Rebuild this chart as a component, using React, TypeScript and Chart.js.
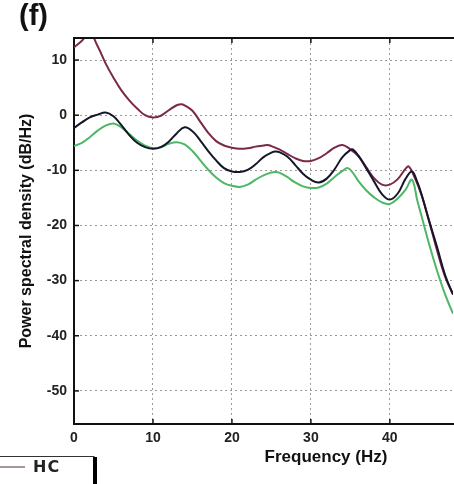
import React, { useEffect, useRef } from "react";
import { Chart, registerables } from "chart.js";

Chart.register(...registerables);

// ---- data ----
const seriesLabels = ["HC", "MCI", "AD"];

const hcFreq = [0, 1, 2, 3, 4, 5, 6, 7, 8, 9, 10, 11, 12, 13, 13.6, 14, 15, 16, 17, 18, 19, 20, 21, 22, 23, 24, 24.5, 25, 26, 27, 28, 29, 30, 31, 32, 33, 34, 35, 36, 37, 38, 39, 40, 41, 42, 42.4, 43, 44, 45, 46, 47, 48];
const hcPsd = [12.3, 13.5, 14.9, 12.5, 9.4, 6.8, 4.5, 2.7, 1.2, 0.0, -0.4, -0.1, 0.9, 1.8, 2.0, 1.8, 0.8, -1.2, -3.2, -4.7, -5.5, -5.9, -6.1, -6.0, -5.7, -5.5, -5.4, -5.6, -6.2, -7.0, -7.8, -8.3, -8.3, -7.8, -6.9, -5.9, -5.4, -6.2, -7.4, -9.4, -11.4, -12.6, -12.6, -11.6, -9.7, -9.3, -10.8, -14.4, -19.3, -24.6, -29.3, -32.5];

const mciFreq = [0, 1, 2, 3, 4, 5, 6, 7, 8, 9, 10, 11, 12, 13, 14, 15, 16, 17, 18, 19, 20, 21, 22, 23, 24, 25, 25.5, 26, 27, 28, 29, 30, 31, 32, 33, 34, 35, 35.3, 36, 37, 38, 39, 40, 41, 42, 42.8, 43.5, 44, 45, 46, 47, 48];
const mciPsd = [-2.3, -1.3, -0.4, 0.1, 0.5, -0.2, -1.8, -3.6, -5.0, -5.8, -6.1, -5.8, -4.8, -3.3, -2.2, -2.9, -4.6, -6.5, -8.2, -9.6, -10.2, -10.3, -9.9, -8.9, -7.6, -6.8, -6.6, -6.7, -7.5, -9.0, -10.6, -11.7, -12.2, -11.5, -9.8, -7.6, -6.3, -6.2, -7.3, -9.6, -12.0, -14.3, -15.3, -14.2, -11.5, -10.2, -12.2, -14.3, -19.3, -24.0, -29.0, -32.5];

const adFreq = [0, 1, 2, 3, 4, 5, 6, 7, 8, 9, 10, 11, 12, 13, 14, 15, 16, 17, 18, 19, 20, 21, 22, 23, 24, 25, 25.5, 26, 27, 28, 29, 30, 31, 32, 33, 34, 34.7, 35.5, 36, 37, 38, 39, 40, 41, 42, 42.8, 43.5, 44, 45, 46, 47, 48];
const adPsd = [-5.6, -5.0, -4.0, -2.8, -1.9, -1.5, -2.2, -3.4, -4.6, -5.5, -6.0, -5.8, -5.2, -4.9, -5.3, -6.5, -8.2, -9.9, -11.3, -12.3, -12.8, -13.0, -12.6, -11.7, -10.9, -10.4, -10.3, -10.4, -11.2, -12.2, -12.9, -13.2, -13.1, -12.4, -11.2, -10.1, -9.6, -10.8, -11.9, -13.6, -14.9, -15.8, -16.1, -15.1, -13.5, -11.7, -15.6, -18.2, -23.5, -28.3, -32.5, -36.0];

const xTickValues = [0, 10, 20, 30, 40];
const yTickValues = [10, 0, -10, -20, -30, -40, -50];
const xMin = 0;
const xMax = 48;
const yMin = -56;
const yMax = 14;

const titleText = "(f)";
const xAxisTitle = "Frequency (Hz)";
const yAxisTitle = "Power spectral density (dB/Hz)";

const colors = ["#7a2a48", "#16162a", "#4cb866"];

function toPoints(xs: number[], ys: number[]) {
  return xs.map((x, i) => ({ x, y: ys[i] }));
}

const overlayPlugin = {
  id: "overlay",
  afterDraw(chart: any) {
    const { ctx, chartArea: a, scales } = chart;
    ctx.save();
    const line = (x1: number, y1: number, x2: number, y2: number) => {
      ctx.beginPath();
      ctx.moveTo(x1, y1);
      ctx.lineTo(x2, y2);
      ctx.stroke();
    };
    // top border
    ctx.strokeStyle = "#111";
    ctx.lineWidth = 2;
    line(a.left - 1, a.top, a.right + 2, a.top);
    // inward tick marks
    ctx.lineWidth = 1.5;
    scales.x.ticks.forEach((t: any) => {
      if (t.value === xMin) return;
      const px = scales.x.getPixelForValue(t.value);
      line(px, a.bottom, px, a.bottom - 5);
      line(px, a.top, px, a.top + 5);
    });
    scales.y.ticks.forEach((t: any) => {
      const py = scales.y.getPixelForValue(t.value);
      line(a.left, py, a.left + 5, py);
    });

    ctx.fillStyle = "#111";
    // panel title
    ctx.font = "bold 29px 'Liberation Sans', Arial, sans-serif";
    ctx.textAlign = "left";
    ctx.textBaseline = "alphabetic";
    ctx.fillText(titleText, 19, 25);

    // y axis title
    ctx.save();
    ctx.translate(27, (a.top + a.bottom) / 2);
    ctx.rotate(-Math.PI / 2);
    ctx.font = "bold 16px 'Liberation Sans', Arial, sans-serif";
    ctx.textAlign = "center";
    ctx.textBaseline = "middle";
    ctx.fillText(yAxisTitle, 0, 0);
    ctx.restore();

    // x axis title (figure was cropped on the right, so the title sits right of centre)
    ctx.font = "bold 17px 'Liberation Sans', Arial, sans-serif";
    ctx.textAlign = "center";
    ctx.textBaseline = "middle";
    ctx.fillText(xAxisTitle, 326, 457);

    // legend box (cropped by the picture edge)
    ctx.strokeStyle = "#333";
    ctx.lineWidth = 1;
    ctx.strokeRect(-5, 456.5, 99, 90);
    ctx.fillStyle = "#000";
    ctx.fillRect(93, 457, 4, 60);
    chart.data.datasets.forEach((ds: any, i: number) => {
      const y = 467 + i * 26;
      ctx.strokeStyle = i === 0 ? "#8a7278" : ds.borderColor;
      ctx.lineWidth = 1.5;
      line(0, y, 25, y);
      ctx.fillStyle = "#222";
      ctx.font = "bold 16px 'DejaVu Sans', sans-serif";
      (ctx as any).letterSpacing = "1px";
      ctx.textAlign = "left";
      ctx.textBaseline = "middle";
      ctx.fillText(ds.label, 33, y + 1);
      (ctx as any).letterSpacing = "0px";
    });
    ctx.restore();
  },
};

export default function App() {
  const canvasRef = useRef<HTMLCanvasElement | null>(null);

  useEffect(() => {
    if (!canvasRef.current) return;
    const tickFont = { family: "'Liberation Sans', Arial, sans-serif", size: 14, weight: "bold" as const };
    const chart = new Chart(canvasRef.current, {
      type: "line",
      data: {
        datasets: [
          { label: seriesLabels[0], data: toPoints(hcFreq, hcPsd), borderColor: colors[0], borderWidth: 2, pointRadius: 0, tension: 0.4, fill: false, order: 2 },
          { label: seriesLabels[1], data: toPoints(mciFreq, mciPsd), borderColor: colors[1], borderWidth: 2, pointRadius: 0, tension: 0.4, fill: false, order: 1 },
          { label: seriesLabels[2], data: toPoints(adFreq, adPsd), borderColor: colors[2], borderWidth: 2, pointRadius: 0, tension: 0.4, fill: false, order: 3 },
        ],
      },
      options: {
        animation: false,
        responsive: false,
        maintainAspectRatio: false,
        devicePixelRatio: 1,
        layout: { padding: { top: 38, right: 1, left: 0, bottom: 0 } },
        plugins: { legend: { display: false }, tooltip: { enabled: false }, title: { display: false } },
        scales: {
          x: {
            type: "linear",
            min: xMin,
            max: xMax,
            afterBuildTicks: (s: any) => {
              s.ticks = xTickValues.map((v) => ({ value: v }));
            },
            afterFit: (s: any) => {
              s.height = 60;
            },
            ticks: { font: tickFont, color: "#222", padding: 6, maxRotation: 0, autoSkip: false },
            grid: { color: "#9a9a9a", lineWidth: 1, drawTicks: false },
            border: { color: "#111", width: 2, dash: [2, 3] },
          },
          y: {
            type: "linear",
            min: yMin,
            max: yMax,
            afterBuildTicks: (s: any) => {
              s.ticks = yTickValues.map((v) => ({ value: v }));
            },
            afterFit: (s: any) => {
              s.width = 74;
            },
            ticks: { font: tickFont, color: "#222", padding: 7, autoSkip: false },
            grid: { color: "#9a9a9a", lineWidth: 1, drawTicks: false },
            border: { color: "#111", width: 2, dash: [2, 3] },
          },
        },
      },
      plugins: [overlayPlugin],
    });
    return () => chart.destroy();
  }, []);

  return (
    <div style={{ position: "absolute", left: 0, top: 0, width: 454, height: 484, background: "#fff", overflow: "hidden" }}>
      <canvas ref={canvasRef} width={454} height={484} style={{ display: "block" }} />
    </div>
  );
}
